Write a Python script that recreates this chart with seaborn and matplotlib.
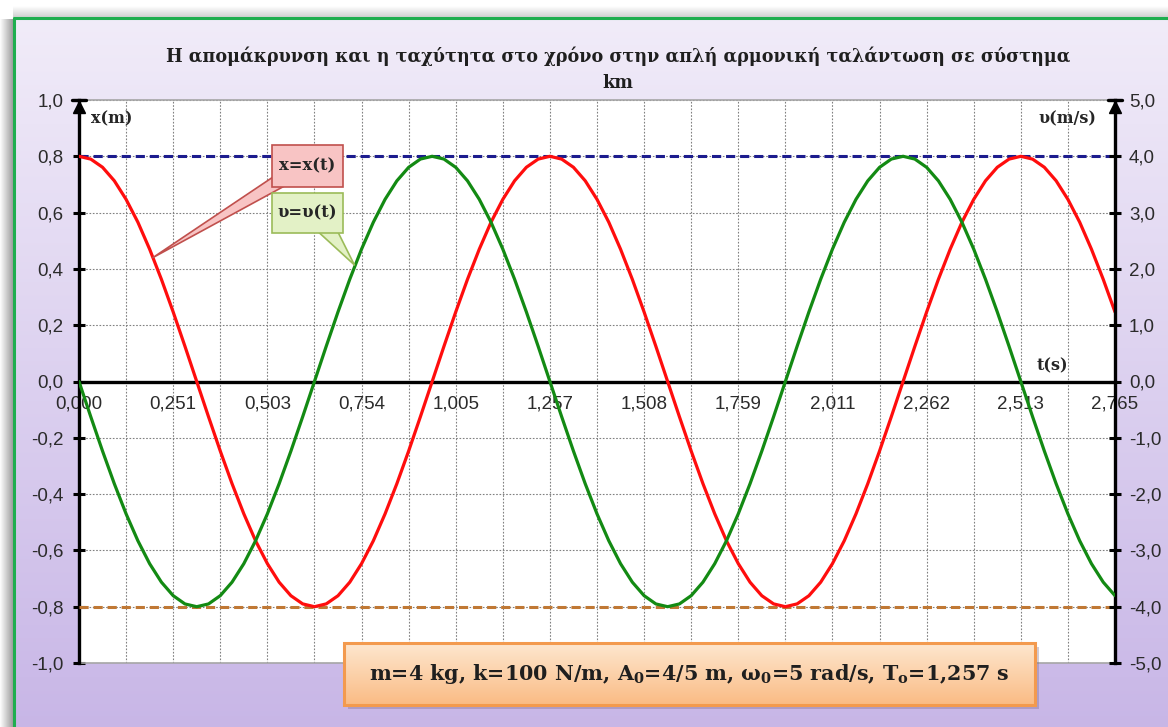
import numpy as np
import matplotlib
matplotlib.use("Agg")
import matplotlib.pyplot as plt
import seaborn as sns
from matplotlib.patches import Rectangle

# Displacement x(t) in m, one sample every 0.0314 s
displacement_m = [
    0.800, 0.790, 0.761, 0.713, 0.647, 0.566, 0.470, 0.363, 0.247, 0.125,
    0.000, -0.125, -0.247, -0.363, -0.470, -0.566, -0.647, -0.713, -0.761, -0.790,
    -0.800, -0.790, -0.761, -0.713, -0.647, -0.566, -0.470, -0.363, -0.247, -0.125,
    0.000, 0.125, 0.247, 0.363, 0.470, 0.566, 0.647, 0.713, 0.761, 0.790,
    0.800, 0.790, 0.761, 0.713, 0.647, 0.566, 0.470, 0.363, 0.247, 0.125,
    0.000, -0.125, -0.247, -0.363, -0.470, -0.566, -0.647, -0.713, -0.761, -0.790,
    -0.800, -0.790, -0.761, -0.713, -0.647, -0.566, -0.470, -0.363, -0.247, -0.125,
    0.000, 0.125, 0.247, 0.363, 0.470, 0.566, 0.647, 0.713, 0.761, 0.790,
    0.800, 0.790, 0.761, 0.713, 0.647, 0.566, 0.470, 0.363, 0.247,
]

# Velocity v(t) in m/s at the same instants
velocity_ms = [
    0.000, -0.626, -1.236, -1.816, -2.351, -2.828, -3.236, -3.564, -3.804, -3.951,
    -4.000, -3.951, -3.804, -3.564, -3.236, -2.828, -2.351, -1.816, -1.236, -0.626,
    0.000, 0.626, 1.236, 1.816, 2.351, 2.828, 3.236, 3.564, 3.804, 3.951,
    4.000, 3.951, 3.804, 3.564, 3.236, 2.828, 2.351, 1.816, 1.236, 0.626,
    0.000, -0.626, -1.236, -1.816, -2.351, -2.828, -3.236, -3.564, -3.804, -3.951,
    -4.000, -3.951, -3.804, -3.564, -3.236, -2.828, -2.351, -1.816, -1.236, -0.626,
    0.000, 0.626, 1.236, 1.816, 2.351, 2.828, 3.236, 3.564, 3.804, 3.951,
    4.000, 3.951, 3.804, 3.564, 3.236, 2.828, 2.351, 1.816, 1.236, 0.626,
    0.000, -0.626, -1.236, -1.816, -2.351, -2.828, -3.236, -3.564, -3.804,
]

t_end = 2.7646
time_s = np.linspace(0.0, t_end, len(displacement_m))

amplitude_m = 0.8

x_tick_values = [0.0, 0.25133, 0.50265, 0.75398, 1.00531, 1.25664,
                 1.50796, 1.75929, 2.01062, 2.26195, 2.51327, 2.76460]
x_tick_labels = ["0,000", "0,251", "0,503", "0,754", "1,005", "1,257",
                 "1,508", "1,759", "2,011", "2,262", "2,513", "2,765"]
left_ticks = [-1.0, -0.8, -0.6, -0.4, -0.2, 0.0, 0.2, 0.4, 0.6, 0.8, 1.0]
left_labels = ["-1,0", "-0,8", "-0,6", "-0,4", "-0,2", "0,0",
               "0,2", "0,4", "0,6", "0,8", "1,0"]
right_ticks = [-5.0, -4.0, -3.0, -2.0, -1.0, 0.0, 1.0, 2.0, 3.0, 4.0, 5.0]
right_labels = ["-5,0", "-4,0", "-3,0", "-2,0", "-1,0", "0,0",
                "1,0", "2,0", "3,0", "4,0", "5,0"]

title_line1 = "Η απομάκρυνση και η ταχύτητα στο χρόνο στην απλή αρμονική ταλάντωση σε σύστημα"
title_line2 = "km"
info_text = (r"m=4 kg, k=100 N/m, A$_{\mathrm{0}}$=4/5 m, ω$_{\mathrm{0}}$=5 rad/s, "
             r"T$_{\mathrm{o}}$=1,257 s")

sns.set_style("white")
plt.rcParams["font.family"] = ["Liberation Sans", "DejaVu Sans"]
plt.rcParams["mathtext.fontset"] = "custom"
plt.rcParams["mathtext.rm"] = "DejaVu Serif:bold"
plt.rcParams["mathtext.it"] = "DejaVu Serif:italic:bold"
plt.rcParams["mathtext.bf"] = "DejaVu Serif:bold"

SERIF = ["DejaVu Serif", "Liberation Serif"]
W, H = 1168, 727
fig = plt.figure(figsize=(W / 100, H / 100), dpi=100)


def fx(px):
    return px / W


def fy(py):
    return 1 - py / H


# ---- frame background -------------------------------------------------
bg = fig.add_axes([0, 0, 1, 1], zorder=-10)
bg.set_axis_off()
bg.set_xlim(0, W)
bg.set_ylim(H, 0)
g = np.linspace(0, 1, 256)[:, None, None]
c_top = np.array([0.945, 0.925, 0.975])
c_bot = np.array([0.785, 0.715, 0.905])
bg.imshow(c_top + (c_bot - c_top) * g, extent=[15, W, H, 19], aspect="auto", zorder=0)
# soft shadow left of and above the frame
sh = np.linspace(1.0, 0.62, 64)[None, :, None] * np.ones((1, 1, 3))
bg.imshow(sh, extent=[0, 13, H, 19], aspect="auto", zorder=0)
sh_top = np.linspace(1.0, 0.82, 32)[:, None, None] * np.ones((1, 1, 3))
bg.imshow(sh_top, extent=[13, W, 17, 6], aspect="auto", zorder=0)
bg.plot([14, 14], [17, H], color="#1fae4f", lw=2.2, solid_capstyle="butt", zorder=2)
bg.plot([13, W], [18, 18], color="#1fae4f", lw=2.2, solid_capstyle="butt", zorder=2)

# ---- plot area --------------------------------------------------------
ax = fig.add_axes([fx(79), fy(663), fx(1115) - fx(79), fy(100) - fy(663)])
ax.set_facecolor("white")
ax2 = ax.twinx()
ax2.patch.set_visible(False)

ax.set_xlim(0, t_end)
ax.set_ylim(-1, 1)
ax2.set_ylim(-5, 5)

minor_x = [(a + b) / 2 for a, b in zip(x_tick_values[:-1], x_tick_values[1:])]
ax.set_xticks(x_tick_values, labels=x_tick_labels)
ax.set_xticks(minor_x, minor=True)
ax.set_yticks(left_ticks, labels=left_labels)
ax2.set_yticks(right_ticks, labels=right_labels)

grid_kw = dict(color="#808080", lw=0.8, ls=(0, (1.5, 1.5)))
ax.grid(True, which="both", axis="x", **grid_kw)
ax.grid(True, which="major", axis="y", **grid_kw)
ax.set_axisbelow(True)

for s in ("top", "right"):
    ax.spines[s].set_visible(False)
ax.spines["left"].set_color("black")
ax.spines["left"].set_linewidth(2.4)
ax.spines["bottom"].set_position(("data", 0))
ax.spines["bottom"].set_color("black")
ax.spines["bottom"].set_linewidth(2.4)
for s in ("top", "left", "bottom"):
    ax2.spines[s].set_visible(False)
ax2.spines["right"].set_color("black")
ax2.spines["right"].set_linewidth(2.4)
ax.axhline(1.0, color="#a6a6a6", lw=1.2, clip_on=False, zorder=1)
ax.axhline(-1.0, color="#a6a6a6", lw=1.2, clip_on=False, zorder=1)

tick_kw = dict(direction="inout", length=8, width=2.2, color="black",
               labelsize=13.5, labelcolor="#2b2b2b")
ax.tick_params(axis="x", which="both", pad=6, **tick_kw)
ax.tick_params(axis="y", which="both", pad=7, left=True, **tick_kw)
ax2.tick_params(axis="y", which="both", pad=6, right=True, **tick_kw)

# arrow heads on the two vertical axes
for xa in (0.0, 1.0):
    ax.plot(xa, 0.988, marker="^", ms=8, color="black", transform=ax.transAxes,
            clip_on=False, zorder=6)
    ax.plot([xa - 0.007, xa + 0.007], [1.0, 1.0], color="black", lw=2.4,
            transform=ax.transAxes, clip_on=False, zorder=6)

# amplitude guides
ax.axhline(amplitude_m, color="#1c1c8e", lw=2.2, ls=(0, (3, 1.6)), zorder=3)
ax.axhline(-amplitude_m, color="#c07834", lw=2.2, ls=(0, (3, 1.6)), zorder=3)

sns.lineplot(x=time_s, y=displacement_m, ax=ax, color="#ff0d0d", lw=2.3,
             estimator=None, sort=False, zorder=4)
sns.lineplot(x=time_s, y=velocity_ms, ax=ax2, color="#138a13", lw=2.3,
             estimator=None, sort=False, zorder=4)
for ln in ax.lines + ax2.lines:
    ln.set_solid_joinstyle("round")
ax.set_xlabel("")
ax.set_ylabel("")
ax2.set_ylabel("")

# axis captions
lab_kw = dict(family=SERIF, fontweight="bold", fontsize=11.5, color="#262626",
              va="center")
fig.text(fx(91), fy(119), "x(m)", ha="left", **lab_kw)
fig.text(fx(1096), fy(119), "υ(m/s)", ha="right", **lab_kw)
fig.text(fx(1052), fy(366), "t(s)", ha="center", **lab_kw)

# title
ttl_kw = dict(family=SERIF, fontweight="bold", fontsize=12.7, color="#1f1f1f",
              ha="center", va="center")
fig.text(fx(618), fy(56), title_line1, **ttl_kw)
fig.text(fx(618), fy(83), title_line2, **ttl_kw)


# callouts: pointer wedge, then box and label drawn above it
def callout(label, xy, xy_trans, box, start, fc, ec, tail):
    ax2.annotate("", xy=xy, xycoords=xy_trans,
                 xytext=(start[0], H - start[1]), textcoords="figure pixels",
                 zorder=20,
                 arrowprops=dict(arrowstyle=f"wedge,tail_width={tail},shrink_factor=0.5",
                                 mutation_scale=10, fc=fc, ec=ec, lw=1.2,
                                 shrinkA=0, shrinkB=0))
    x0, y0, x1, y1 = box
    fig.patches.append(Rectangle((fx(x0), fy(y1)), fx(x1 - x0), (y1 - y0) / H,
                                 transform=fig.transFigure, fc=fc, ec=ec, lw=1.2,
                                 zorder=25))
    fig.text(fx((x0 + x1) / 2), fy((y0 + y1) / 2), label, ha="center", va="center",
             fontsize=11.8, fontweight="bold", family=SERIF, color="#262626",
             zorder=26)


callout("x=x(t)", (0.197, 0.44), ax.transData, (272, 145, 343, 187), (281, 180),
        "#f8c4c4", "#c0504d", 1.0)
callout("υ=υ(t)", (0.735, 2.07), ax2.transData, (272, 193, 343, 233), (325, 226),
        "#e3f1c6", "#9bbb59", 1.3)

# parameter box with gradient fill and drop shadow
bx0, by0, bx1, by1 = 344, 643, 1035, 705
fig.patches.append(Rectangle((fx(bx0 + 4), fy(by1 + 4)), fx(bx1 - bx0), (by1 - by0) / H,
                             transform=fig.transFigure, fc="#7a6a8a", alpha=0.35,
                             ec="none", zorder=30))
box_ax = fig.add_axes([fx(bx0), fy(by1), fx(bx1 - bx0), (by1 - by0) / H], zorder=31)
box_ax.set_axis_off()
c1 = np.array([0.995, 0.905, 0.810])
c2 = np.array([0.980, 0.735, 0.520])
box_ax.imshow(c1 + (c2 - c1) * np.linspace(0, 1, 64)[:, None, None],
              extent=[0, 1, 0, 1], aspect="auto")
box_ax.set_xlim(0, 1)
box_ax.set_ylim(0, 1)
box_ax.add_patch(Rectangle((0, 0), 1, 1, fill=False, ec="#f39a4e", lw=2.2,
                           transform=box_ax.transAxes, clip_on=False))
box_ax.text(0.5, 0.5, info_text, ha="center", va="center", fontsize=14.9,
            fontweight="bold", family=SERIF, color="#1f1f1f",
            transform=box_ax.transAxes)

fig.savefig("out.png", dpi=100)
